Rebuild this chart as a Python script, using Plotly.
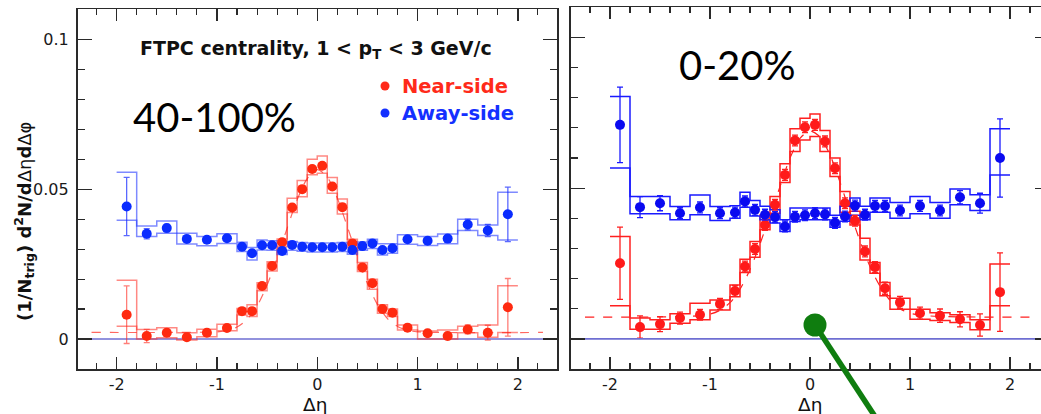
import plotly.graph_objects as go

W, H = 1041, 414

# ---------------- data ----------------
bin_centers = [-1.9, -1.7, -1.5, -1.3, -1.1, -0.9, -0.75, -0.65, -0.55, -0.45, -0.35, -0.25, -0.15, -0.05,
               0.05, 0.15, 0.25, 0.35, 0.45, 0.55, 0.65, 0.75, 0.9, 1.1, 1.3, 1.5, 1.7, 1.9]
bin_edges = [-2.0, -1.8, -1.6, -1.4, -1.2, -1.0, -0.8, -0.7, -0.6, -0.5, -0.4, -0.3, -0.2, -0.1, 0.0,
             0.1, 0.2, 0.3, 0.4, 0.5, 0.6, 0.7, 0.8, 1.0, 1.2, 1.4, 1.6, 1.8, 2.0]

# 40-100% near-side
p1_near = [0.0081, 0.0010, 0.0021, 0.0006, 0.0021, 0.0037, 0.0093, 0.0093, 0.0177, 0.0244, 0.0323, 0.0439, 0.0500, 0.0567,
           0.0578, 0.0509, 0.0440, 0.0319, 0.0239, 0.0186, 0.0100, 0.0088, 0.0038, 0.0019, 0.0010, 0.0032, 0.0021, 0.0106]
p1_near_err = [0.0096, 0.0022, 0.0012, 0.0010, 0.0010, 0.0010, 0.0010, 0.0010, 0.0010, 0.0010, 0.0010, 0.0010, 0.0010, 0.0010,
               0.0010, 0.0010, 0.0010, 0.0010, 0.0010, 0.0010, 0.0010, 0.0010, 0.0010, 0.0010, 0.0012, 0.0015, 0.0025, 0.0096]
p1_near_syshi = [0.0196, 0.0032, 0.0038, 0.0021, 0.0033, 0.0049, 0.0102, 0.0114, 0.0188, 0.0258, 0.0334, 0.0470, 0.0529, 0.0600,
                 0.0611, 0.0539, 0.0467, 0.0333, 0.0255, 0.0199, 0.0114, 0.0100, 0.0047, 0.0027, 0.0030, 0.0043, 0.0047, 0.0178]
p1_near_syslo = [0.0043, 0.0000, 0.0004, -0.0003, 0.0008, 0.0028, 0.0080, 0.0075, 0.0161, 0.0227, 0.0308, 0.0422, 0.0475, 0.0548,
                 0.0553, 0.0486, 0.0417, 0.0305, 0.0225, 0.0166, 0.0086, 0.0075, 0.0030, 0.0000, 0.0000, 0.0021, 0.0006, 0.0022]
# 40-100% away-side
p1_away = [0.0442, 0.0351, 0.0370, 0.0334, 0.0331, 0.0336, 0.0308, 0.0286, 0.0313, 0.0313, 0.0294, 0.0314, 0.0308, 0.0306,
           0.0306, 0.0306, 0.0308, 0.0297, 0.0310, 0.0319, 0.0297, 0.0303, 0.0333, 0.0328, 0.0335, 0.0382, 0.0362, 0.0416]
p1_away_err = [0.0097, 0.0017, 0.0012, 0.0008, 0.0008, 0.0008, 0.0008, 0.0008, 0.0008, 0.0008, 0.0008, 0.0008, 0.0008, 0.0008,
               0.0008, 0.0008, 0.0008, 0.0008, 0.0008, 0.0008, 0.0008, 0.0008, 0.0008, 0.0008, 0.0008, 0.0018, 0.0020, 0.0091]
p1_away_syshi = [0.0556, 0.0377, 0.0394, 0.0353, 0.0342, 0.0351, 0.0323, 0.0305, 0.0330, 0.0328, 0.0320, 0.0325, 0.0322, 0.0320,
                 0.0320, 0.0320, 0.0322, 0.0318, 0.0324, 0.0333, 0.0318, 0.0318, 0.0348, 0.0342, 0.0350, 0.0400, 0.0380, 0.0490]
p1_away_syslo = [0.0396, 0.0342, 0.0353, 0.0317, 0.0311, 0.0319, 0.0292, 0.0264, 0.0297, 0.0296, 0.0282, 0.0296, 0.0293, 0.0290,
                 0.0290, 0.0290, 0.0292, 0.0283, 0.0296, 0.0302, 0.0280, 0.0286, 0.0316, 0.0312, 0.0318, 0.0362, 0.0345, 0.0330]
# 40-100% near-side fit curve
p1_fit_x = [-2.25, -1.0, -0.9, -0.8, -0.7, -0.6, -0.5, -0.4, -0.3, -0.2, -0.1, 0.0, 0.1, 0.2, 0.3, 0.4, 0.5, 0.6, 0.7, 0.8, 0.9, 1.0, 2.25]
p1_fit_y = [0.0022, 0.0024, 0.0028, 0.0040, 0.0065, 0.0110, 0.0180, 0.0270, 0.0370, 0.0465, 0.0535, 0.0565, 0.0540, 0.0470,
            0.0375, 0.0275, 0.0185, 0.0115, 0.0068, 0.0042, 0.0029, 0.0024, 0.0022]

# 0-20% near-side
p2_near = [0.0251, 0.0039, 0.0049, 0.0069, 0.0080, 0.0116, 0.0159, 0.0240, 0.0298, 0.0378, 0.0445, 0.0544, 0.0658, 0.0702,
           0.0710, 0.0655, 0.0566, 0.0450, 0.0392, 0.0290, 0.0238, 0.0168, 0.0121, 0.0085, 0.0077, 0.0065, 0.0046, 0.0155]
p2_near_err = [0.0120, 0.0037, 0.0025, 0.0020, 0.0018, 0.0018, 0.0018, 0.0018, 0.0018, 0.0018, 0.0018, 0.0018, 0.0018, 0.0018,
               0.0018, 0.0018, 0.0018, 0.0018, 0.0018, 0.0018, 0.0018, 0.0020, 0.0020, 0.0020, 0.0022, 0.0025, 0.0037, 0.0130]
p2_near_syshi = [0.0340, 0.0069, 0.0063, 0.0083, 0.0118, 0.0129, 0.0179, 0.0264, 0.0323, 0.0411, 0.0472, 0.0581, 0.0697, 0.0732,
                 0.0746, 0.0691, 0.0600, 0.0489, 0.0423, 0.0334, 0.0253, 0.0187, 0.0135, 0.0098, 0.0087, 0.0080, 0.0063, 0.0248]
p2_near_syslo = [0.0110, 0.0032, 0.0032, 0.0052, 0.0063, 0.0096, 0.0140, 0.0220, 0.0271, 0.0362, 0.0417, 0.0519, 0.0622, 0.0660,
                 0.0671, 0.0622, 0.0539, 0.0420, 0.0378, 0.0262, 0.0218, 0.0143, 0.0098, 0.0065, 0.0061, 0.0054, 0.0030, 0.0110]
# 0-20% away-side
p2_away = [0.0710, 0.0437, 0.0450, 0.0417, 0.0436, 0.0417, 0.0419, 0.0456, 0.0428, 0.0412, 0.0404, 0.0373, 0.0405, 0.0410,
           0.0417, 0.0413, 0.0385, 0.0406, 0.0442, 0.0412, 0.0441, 0.0441, 0.0426, 0.0441, 0.0426, 0.0470, 0.0450, 0.0600]
p2_away_err = [0.0125, 0.0035, 0.0025, 0.0018, 0.0018, 0.0018, 0.0018, 0.0018, 0.0018, 0.0018, 0.0018, 0.0018, 0.0018, 0.0018,
               0.0018, 0.0018, 0.0018, 0.0018, 0.0018, 0.0018, 0.0018, 0.0018, 0.0018, 0.0018, 0.0018, 0.0022, 0.0033, 0.0130]
p2_away_syshi = [0.0804, 0.0472, 0.0472, 0.0439, 0.0477, 0.0439, 0.0442, 0.0486, 0.0459, 0.0440, 0.0428, 0.0395, 0.0434, 0.0434,
                 0.0434, 0.0434, 0.0410, 0.0440, 0.0467, 0.0440, 0.0467, 0.0467, 0.0452, 0.0472, 0.0452, 0.0497, 0.0478, 0.0697]
p2_away_syslo = [0.0567, 0.0415, 0.0415, 0.0395, 0.0412, 0.0393, 0.0400, 0.0437, 0.0408, 0.0395, 0.0384, 0.0356, 0.0389, 0.0395,
                 0.0395, 0.0395, 0.0370, 0.0390, 0.0410, 0.0395, 0.0420, 0.0420, 0.0400, 0.0415, 0.0400, 0.0445, 0.0426, 0.0544]
p2_fit_x = [-2.25, -1.2, -1.0, -0.9, -0.8, -0.7, -0.6, -0.5, -0.4, -0.3, -0.2, -0.1, 0.0, 0.1, 0.2, 0.3, 0.4, 0.5, 0.6, 0.7,
            0.8, 0.9, 1.0, 1.2, 2.25]
p2_fit_y = [0.0072, 0.0075, 0.0082, 0.0095, 0.0120, 0.0165, 0.0230, 0.0315, 0.0410, 0.0505, 0.0600, 0.0665, 0.0690, 0.0670,
            0.0610, 0.0520, 0.0420, 0.0325, 0.0240, 0.0175, 0.0128, 0.0100, 0.0085, 0.0076, 0.0072]

zero_x_left = [-2.25, 2.25]
zero_x_right = [-2.25, 2.4]
zero_y = [0, 0]

x_tickvals = [-2, -1, 0, 1, 2]
x_ticktext = ["-2", "-1", "0", "1", "2"]
y_tickvals = [0, 0.05, 0.1]
y_ticktext = ["0", "0.05", "0.1"]

# ---------------- styling ----------------
ROOTFONT = "DejaVu Sans"
AX = "#2a2a2a"

fig = go.Figure()


def add_panel(xa, ya, near, near_err, near_hi, near_lo, away, away_err, away_hi, away_lo,
              fit_x, fit_y, zero_x, red_sys, blue_sys, red_pt, blue_pt, red_err, blue_err, fit_col):
    # zero line
    fig.add_trace(go.Scatter(x=zero_x, y=zero_y, mode="lines", xaxis=xa, yaxis=ya,
                             line=dict(color="#6e6ed2", width=1.5), showlegend=False, hoverinfo="skip"))
    # fit
    fig.add_trace(go.Scatter(x=fit_x, y=fit_y, mode="lines", xaxis=xa, yaxis=ya,
                             line=dict(color=fit_col, width=1.2, dash="dash", shape="spline", smoothing=0.8),
                             showlegend=False, hoverinfo="skip"))
    # systematic step outlines
    for vals, col in [(near_hi, red_sys), (near_lo, red_sys), (away_hi, blue_sys), (away_lo, blue_sys)]:
        fig.add_trace(go.Scatter(x=bin_edges, y=list(vals) + [vals[-1]], mode="lines", xaxis=xa, yaxis=ya,
                                 line=dict(color=col, width=1.5, shape="hv"), showlegend=False, hoverinfo="skip"))
    # points
    fig.add_trace(go.Scatter(x=bin_centers, y=near, mode="markers", xaxis=xa, yaxis=ya,
                             marker=dict(color=red_pt, size=10, line=dict(width=0)),
                             error_y=dict(type="data", array=near_err, color=red_err, thickness=1.3, width=3),
                             showlegend=False))
    fig.add_trace(go.Scatter(x=bin_centers, y=away, mode="markers", xaxis=xa, yaxis=ya,
                             marker=dict(color=blue_pt, size=10, line=dict(width=0)),
                             error_y=dict(type="data", array=away_err, color=blue_err, thickness=1.3, width=3),
                             showlegend=False))


add_panel("x", "y", p1_near, p1_near_err, p1_near_syshi, p1_near_syslo,
          p1_away, p1_away_err, p1_away_syshi, p1_away_syslo, p1_fit_x, p1_fit_y, zero_x_left,
          "rgba(255,40,30,0.55)", "rgba(40,60,255,0.6)", "#ff2a10", "#0a2cff",
          "rgba(255,40,30,0.6)", "rgba(20,40,255,0.7)", "rgba(255,40,30,0.7)")
add_panel("x2", "y2", p2_near, p2_near_err, p2_near_syshi, p2_near_syslo,
          p2_away, p2_away_err, p2_away_syshi, p2_away_syslo, p2_fit_x, p2_fit_y, zero_x_right,
          "#ff2020", "#1a1aff", "#ff1a1a", "#0a0af0",
          "#ff2020", "#1a1aff", "#ff2020")

yb, yt1, yt2 = 1 - 369 / H, 1 - 9.3 / H, 1 - 7.3 / H


def xaxis_cfg(domain, rng, anchor):
    return dict(domain=domain, range=rng, anchor=anchor, showline=True, linecolor=AX, linewidth=1.6,
                mirror="ticks", ticks="inside", ticklen=12, tickwidth=1.3, tickcolor=AX,
                tickmode="array", tickvals=x_tickvals, ticktext=x_ticktext,
                tickfont=dict(family=ROOTFONT, size=16, color="#1a1a1a"),
                minor=dict(ticks="inside", ticklen=6, tickwidth=1.1, tickcolor=AX, dtick=0.2, tick0=0),
                showgrid=False, zeroline=False, fixedrange=True, ticklabelstandoff=0)


def yaxis_cfg(domain, anchor, labels, mirror):
    return dict(domain=domain, range=[-0.01, 0.110], anchor=anchor, showline=True, linecolor=AX, linewidth=1.6,
                mirror=mirror, ticks="inside", ticklen=14, tickwidth=1.3, tickcolor=AX,
                tickmode="array", tickvals=y_tickvals, ticktext=y_ticktext, showticklabels=labels,
                tickfont=dict(family=ROOTFONT, size=16, color="#1a1a1a"),
                minor=dict(ticks="inside", ticklen=7, tickwidth=1.1, tickcolor=AX, dtick=0.01, tick0=0),
                showgrid=False, zeroline=False, fixedrange=True, ticklabelstandoff=4)


fig.update_layout(
    width=W, height=H, margin=dict(l=0, r=0, t=0, b=0),
    paper_bgcolor="white", plot_bgcolor="white", showlegend=False,
    xaxis=xaxis_cfg([77.5 / W, 557 / W], [-2.39, 2.39], "y"),
    yaxis=yaxis_cfg([yb, yt1], "x", True, "ticks"),
    xaxis2=xaxis_cfg([571 / W, 1.0], [-2.39, 2.31], "y2"),
    yaxis2=yaxis_cfg([yb, yt2], "x2", False, False),
    yaxis3=dict(overlaying="y2", anchor="x2", side="right", range=[-0.01, 0.110], showline=False,
                ticks="inside", ticklen=6, tickwidth=1.3, tickcolor=AX, tickmode="array",
                tickvals=y_tickvals, ticktext=y_ticktext, showticklabels=False, showgrid=False, zeroline=False),
)
# trace on the right-hand tick axis so it is drawn
fig.add_trace(go.Scatter(x=zero_x_right, y=zero_y, mode="lines", xaxis="x2", yaxis="y3",
                         line=dict(color="#6e6ed2", width=1.5), showlegend=False, hoverinfo="skip"))


def px(x):
    return x / W


def py(y):
    return 1 - y / H


ann = []
ann.append(dict(text="<b>FTPC centrality, 1 &lt; p<sub>T</sub> &lt; 3 GeV/c</b>", x=px(316), y=py(50),
                font=dict(family=ROOTFONT, size=19, color="#111")))
ann.append(dict(text="40-100%", x=px(214), y=py(117), font=dict(family="Lato", size=40, color="black")))
ann.append(dict(text="0-20%", x=px(737), y=py(65), font=dict(family="Lato", size=40, color="black")))
ann.append(dict(text="<b>Near-side</b>", x=px(400), y=py(86), xanchor="left",
                font=dict(family=ROOTFONT, size=19.5, color="#ff2a1a")))
ann.append(dict(text="<b>Away-side</b>", x=px(400), y=py(113), xanchor="left",
                font=dict(family=ROOTFONT, size=19.5, color="#1430ff")))
ann.append(dict(text="<b>(1/N<sub>trig</sub>) d<sup>2</sup>N/d</b>Δη<b>d</b>Δφ", x=px(24), y=py(222), textangle=-90,
                font=dict(family=ROOTFONT, size=18, color="#111")))
ann.append(dict(text="Δη", x=px(315), y=py(404), font=dict(family=ROOTFONT, size=18.5, color="#111")))
ann.append(dict(text="Δη", x=px(810), y=py(404), font=dict(family=ROOTFONT, size=18.5, color="#111")))
for a in ann:
    a.setdefault("xanchor", "center")
    a.update(xref="paper", yref="paper", yanchor="middle", showarrow=False)
fig.update_layout(annotations=ann)

shapes = []
for cy, col in [(86, "#ff2a1a"), (113, "#1430ff")]:
    shapes.append(dict(type="circle", xref="paper", yref="paper", xsizemode="pixel", ysizemode="pixel",
                       xanchor=px(385), yanchor=py(cy), x0=-4.5, x1=4.5, y0=-4.5, y1=4.5,
                       fillcolor=col, line=dict(width=0)))
# green pointer overlay
shapes.append(dict(type="line", xref="paper", yref="paper", x0=px(815), y0=py(325), x1=px(876), y1=py(418),
                   line=dict(color="#0f7d0f", width=5.5)))
shapes.append(dict(type="circle", xref="paper", yref="paper", xsizemode="pixel", ysizemode="pixel",
                   xanchor=px(815), yanchor=py(325), x0=-11.5, x1=11.5, y0=-11.5, y1=11.5,
                   fillcolor="#0f7d0f", line=dict(width=0)))
fig.update_layout(shapes=shapes)

fig.write_html("out.html", config={"displayModeBar": False, "staticPlot": True},
               post_script="document.body.style.margin='0';document.body.style.overflow='hidden';")
